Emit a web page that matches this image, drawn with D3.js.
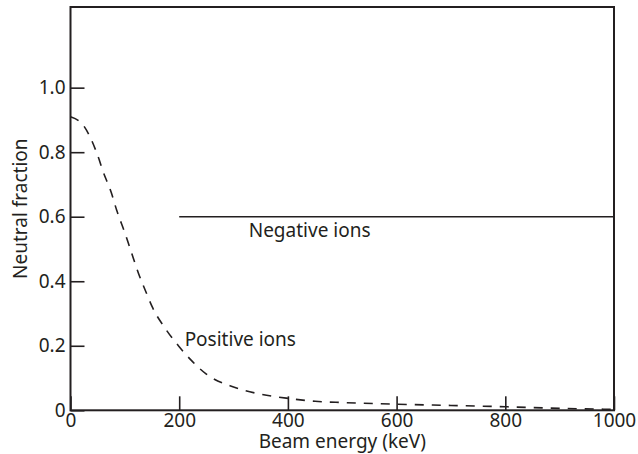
<!DOCTYPE html>
<html>
<head>
<meta charset="utf-8">
<script src="https://cdn.jsdelivr.net/npm/d3@7"></script>
<style>
  body { margin: 0; background: #fff; }
  svg text { font-family: "Noto Sans", sans-serif; fill: #231f20; }
</style>
</head>
<body>
<svg id="canvas" width="638" height="454"></svg>
<script>
// positive ion neutral fraction
const energy = [0, 25, 50, 60, 75, 85, 100, 110, 125, 140, 150, 175, 200, 225, 250, 300, 350, 400, 450, 500, 600, 700, 800, 900, 1000];
const positiveFraction = [0.91, 0.88, 0.79, 0.74, 0.675, 0.62, 0.55, 0.5, 0.425, 0.362, 0.322, 0.252, 0.197, 0.15, 0.112, 0.072, 0.05, 0.037, 0.028, 0.024, 0.019, 0.015, 0.011, 0.006, 0.003];

// negative ions: flat line
const negativeEnergy = [200, 1000];
const negativeFraction = [0.6, 0.6];

const xTicks = [0, 200, 400, 600, 800, 1000];
const yTicks = [0, 0.2, 0.4, 0.6, 0.8, 1.0];

const ink = "#231f20";
const plot = { left: 70.5, right: 614, top: 7, bottom: 410.3 };

const svg = d3.select("#canvas");

const x = d3.scaleLinear().domain([0, 1000]).range([plot.left, plot.right]);
const y = d3.scaleLinear().domain([0, 1.25]).range([plot.bottom, plot.top]);

// axes, ticks inside
const xAxis = svg.append("g")
  .attr("transform", `translate(0,${plot.bottom})`)
  .call(d3.axisBottom(x).tickValues(xTicks).tickSize(-14).tickPadding(3.5).tickFormat(d3.format("d")));

const yAxis = svg.append("g")
  .attr("transform", `translate(${plot.left},0)`)
  .call(d3.axisLeft(y).tickValues(yTicks).tickSize(-14).tickPadding(5)
    .tickFormat(d => d === 0 ? "0" : d3.format(".1f")(d)));

[xAxis, yAxis].forEach(a => {
  a.select(".domain").remove();
  a.selectAll(".tick line").attr("stroke", ink).attr("stroke-width", 1.6);
  a.selectAll(".tick text").attr("font-size", 19).attr("font-family", "Noto Sans").style("fill", ink);
});

// frame
svg.append("rect")
  .attr("x", plot.left)
  .attr("y", plot.top)
  .attr("width", plot.right - plot.left)
  .attr("height", plot.bottom - plot.top)
  .attr("fill", "none")
  .attr("stroke", ink)
  .attr("stroke-width", 2);

// positive ions, dashed
const line = d3.line()
  .x(d => x(d[0]))
  .y(d => y(d[1]))
  .curve(d3.curveMonotoneX);

svg.append("path")
  .attr("d", line(energy.map((e, i) => [e, positiveFraction[i]])))
  .attr("fill", "none")
  .attr("stroke", ink)
  .attr("stroke-width", 1.6)
  .attr("stroke-dasharray", "9,8");

// negative ions, solid
svg.append("path")
  .attr("d", d3.line().x(d => x(d[0])).y(d => y(d[1]))(negativeEnergy.map((e, i) => [e, negativeFraction[i]])))
  .attr("fill", "none")
  .attr("stroke", ink)
  .attr("stroke-width", 1.6);

// labels
svg.append("text")
  .attr("x", x(440))
  .attr("y", y(0.6) + 20.5)
  .attr("text-anchor", "middle")
  .attr("font-size", 19)
  .text("Negative ions");

svg.append("text")
  .attr("x", x(210))
  .attr("y", y(0.2))
  .attr("font-size", 19)
  .text("Positive ions");

svg.append("text")
  .attr("x", (plot.left + plot.right) / 2)
  .attr("y", 448)
  .attr("text-anchor", "middle")
  .attr("font-size", 19)
  .text("Beam energy (keV)");

svg.append("text")
  .attr("transform", `translate(27,${(plot.top + plot.bottom) / 2}) rotate(-90)`)
  .attr("text-anchor", "middle")
  .attr("font-size", 19)
  .text("Neutral fraction");
</script>
</body>
</html>
